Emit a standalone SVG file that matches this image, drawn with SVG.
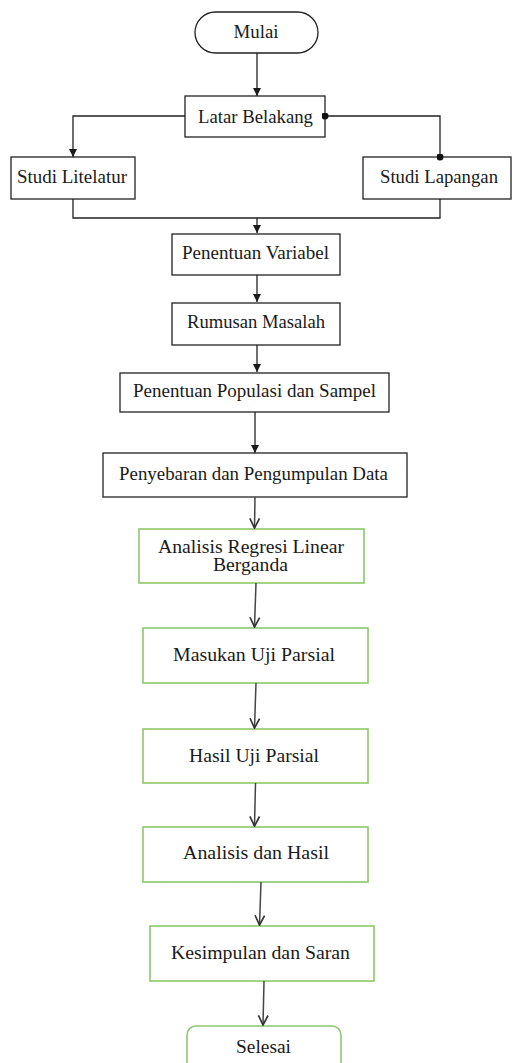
<svg xmlns="http://www.w3.org/2000/svg" width="512" height="1063" viewBox="0 0 512 1063">
<defs>
<marker id="tri" viewBox="0 0 10 10" refX="10" refY="5" markerWidth="8" markerHeight="8" markerUnits="userSpaceOnUse" orient="auto"><path d="M0,0 L10,5 L0,10 Z" fill="#1a1a1a"/></marker>
<marker id="vee" viewBox="0 0 10 10" refX="9" refY="5" markerWidth="12" markerHeight="14" markerUnits="userSpaceOnUse" orient="auto"><path d="M1,1 L9,5 L1,9" fill="none" stroke="#333" stroke-width="1.4"/></marker>
<marker id="dot" viewBox="0 0 10 10" refX="5" refY="5" markerWidth="7" markerHeight="7" markerUnits="userSpaceOnUse"><circle cx="5" cy="5" r="5" fill="#111"/></marker>
</defs>
<style>
.b{fill:#fff;stroke:#222;stroke-width:1.3}
.g{fill:#fff;stroke:#8dc86a;stroke-width:1.6}
.t{font-family:"Liberation Serif","Times New Roman",serif;font-size:18px;fill:#1a1a1a;text-anchor:middle}
.c{fill:none;stroke:#222;stroke-width:1.3}
.v{fill:none;stroke:#444;stroke-width:1.5}
</style>
<rect width="512" height="1063" fill="#fff"/>
<g id="mulai"><rect class="b" x="195" y="12" width="123" height="41" rx="20.5"/><text class="t" x="256" y="38" textLength="45" lengthAdjust="spacingAndGlyphs">Mulai</text></g>
<g id="latar"><rect class="b" x="185" y="96" width="140" height="41"/><text class="t" x="255.5" y="123" textLength="115" lengthAdjust="spacingAndGlyphs">Latar Belakang</text></g>
<g id="litelatur"><rect class="b" x="11" y="157" width="124" height="42"/><text class="t" x="72" y="183" textLength="110" lengthAdjust="spacingAndGlyphs">Studi Litelatur</text></g>
<g id="lapangan"><rect class="b" x="363" y="157" width="148" height="42"/><text class="t" x="439" y="183" textLength="118" lengthAdjust="spacingAndGlyphs">Studi Lapangan</text></g>
<g id="variabel"><rect class="b" x="172" y="234" width="168" height="41"/><text class="t" x="255.5" y="259" textLength="147" lengthAdjust="spacingAndGlyphs">Penentuan Variabel</text></g>
<g id="rumusan"><rect class="b" x="172" y="303" width="168" height="42"/><text class="t" x="256" y="328" textLength="138" lengthAdjust="spacingAndGlyphs">Rumusan Masalah</text></g>
<g id="populasi"><rect class="b" x="120" y="373" width="269" height="39"/><text class="t" x="254.5" y="397" textLength="243" lengthAdjust="spacingAndGlyphs">Penentuan Populasi dan Sampel</text></g>
<g id="penyebaran"><rect class="b" x="103" y="453" width="304" height="44"/><text class="t" x="253.5" y="480" textLength="269" lengthAdjust="spacingAndGlyphs">Penyebaran dan Pengumpulan Data</text></g>
<g id="regresi"><rect class="g" x="139" y="529" width="225" height="54"/><text class="t" x="251" y="553" textLength="186" lengthAdjust="spacingAndGlyphs">Analisis Regresi Linear</text><text class="t" x="250.5" y="571" textLength="75" lengthAdjust="spacingAndGlyphs">Berganda</text></g>
<g id="masukan"><rect class="g" x="143" y="628" width="225" height="55"/><text class="t" x="254" y="661" textLength="162" lengthAdjust="spacingAndGlyphs">Masukan Uji Parsial</text></g>
<g id="hasiluji"><rect class="g" x="143" y="729" width="225" height="54"/><text class="t" x="254" y="762" textLength="130" lengthAdjust="spacingAndGlyphs">Hasil Uji Parsial</text></g>
<g id="analisis"><rect class="g" x="143" y="827" width="225" height="55"/><text class="t" x="256" y="859" textLength="146" lengthAdjust="spacingAndGlyphs">Analisis dan Hasil</text></g>
<g id="kesimpulan"><rect class="g" x="150" y="926" width="224" height="55"/><text class="t" x="260.5" y="959" textLength="179" lengthAdjust="spacingAndGlyphs">Kesimpulan dan Saran</text></g>
<g id="selesai"><rect class="g" x="187" y="1026" width="154" height="50" rx="9"/><text class="t" x="263.5" y="1053" textLength="55" lengthAdjust="spacingAndGlyphs">Selesai</text></g>
<g id="connectors">
<path class="c" d="M257,53 V96" marker-end="url(#tri)"/>
<path class="c" d="M185,116 H73 V157" marker-end="url(#tri)"/>
<path class="c" d="M325,116 H440 V157" marker-start="url(#dot)" marker-end="url(#dot)"/>
<path class="c" d="M73,199 V218 H440 V199"/>
<path class="c" d="M257,218 V233" marker-end="url(#tri)"/>
<path class="c" d="M257,275 V302" marker-end="url(#tri)"/>
<path class="c" d="M257,345 V372" marker-end="url(#tri)"/>
<path class="c" d="M255,412 V453" marker-end="url(#tri)"/>
<path class="v" d="M255,497 L254.5,528" marker-end="url(#vee)"/>
<path class="v" d="M256,583 L254.5,627" marker-end="url(#vee)"/>
<path class="v" d="M256,683 L254.5,728" marker-end="url(#vee)"/>
<path class="v" d="M255.5,783 L254.5,826" marker-end="url(#vee)"/>
<path class="v" d="M261,882 L259.5,925" marker-end="url(#vee)"/>
<path class="v" d="M264,981 L263,1025" marker-end="url(#vee)"/>
</g>
</svg>
